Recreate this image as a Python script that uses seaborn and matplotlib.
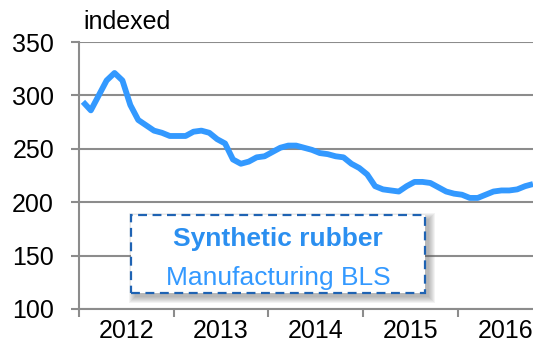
import numpy as np
import pandas as pd
import seaborn as sns
import matplotlib
matplotlib.use("Agg")
import matplotlib.pyplot as plt
from matplotlib.patches import Rectangle

# Monthly index values, Jan 2012 onward
months = pd.date_range("2012-01-01", periods=58, freq="MS")
index_values = [
    294, 286, 300, 314, 321, 314, 291, 277, 272, 267, 265, 262,
    262, 262, 266, 267, 265, 259, 255, 240, 236, 238, 242, 243,
    247, 251, 253, 253, 251, 249, 246, 245, 243, 242, 236, 232,
    226, 215, 212, 211, 210, 215, 219, 219, 218, 214, 210, 208,
    207, 204, 204, 207, 210, 211, 211, 212, 215, 217,
]
year_labels = ["2012", "2013", "2014", "2015", "2016"]
y_ticks = [100, 150, 200, 250, 300, 350]

title_text = "Synthetic rubber"
subtitle_text = "Manufacturing BLS"
unit_text = "indexed"

df = pd.DataFrame({"pos": np.arange(len(months)), "value": index_values})

sns.set_style("white")
plt.rcParams["font.family"] = ["Liberation Sans", "DejaVu Sans"]

grid_col = "#8c8c8c"
line_col = "#3399ff"

W, H = 533, 344
fig = plt.figure(figsize=(W / 100, H / 100), dpi=100)
ax = fig.add_axes([79 / W, 1 - 309 / H, 1 - 79 / W, (309 - 42) / H])

sns.lineplot(data=df, x="pos", y="value", ax=ax, color=line_col,
             linewidth=4.2, solid_joinstyle="round", solid_capstyle="butt")

ax.set_ylim(100, 350)
ax.set_xlim(-0.5, 57.0)
ax.set_yticks(y_ticks)
ax.set_yticklabels([str(v) for v in y_ticks])
ax.yaxis.grid(True, color=grid_col, linewidth=1.5)
ax.set_axisbelow(True)

# year boundaries as major ticks, year names centred between them
bounds = [-0.5 + 12 * k for k in range(len(year_labels))]
centres = [5.5 + 12 * k for k in range(len(year_labels))]
ax.set_xticks(bounds)
ax.set_xticklabels([""] * len(bounds))
ax.set_xticks(centres, minor=True)
ax.set_xticklabels(year_labels, minor=True)

ax.tick_params(axis="y", which="major", length=6, width=1.5, color=grid_col,
               labelsize=18, labelcolor="black", pad=12, direction="out",
               left=True)
ax.tick_params(axis="x", which="major", length=6, width=1.5, color=grid_col,
               direction="out", bottom=True)
ax.tick_params(axis="x", which="minor", length=0, labelsize=18,
               labelcolor="black", pad=7)

ax.set_xlabel("")
ax.set_ylabel("")
for side in ["top", "right"]:
    ax.spines[side].set_visible(False)
for side in ["left", "bottom"]:
    ax.spines[side].set_color(grid_col)
    ax.spines[side].set_linewidth(1.5)

fig.text(83 / W, 1 - 29 / H, unit_text, fontsize=18, color="black",
         ha="left", va="baseline")

# framed caption with a soft drop shadow (stacked translucent layers)
bx, by, bw, bh = 131, 215, 294, 78
for grow in range(6, -1, -1):
    shadow = Rectangle(((bx + 4 - grow) / W, 1 - (by + bh + 4 + grow) / H),
                       (bw + 2 * grow) / W, (bh + 2 * grow) / H,
                       transform=fig.transFigure, facecolor="#555555",
                       edgecolor="none", alpha=0.07, zorder=4)
    fig.patches.append(shadow)
box = Rectangle((bx / W, 1 - (by + bh) / H), bw / W, bh / H,
                transform=fig.transFigure, facecolor="white",
                edgecolor="#1f63b3", linewidth=1.6, linestyle=(0, (4, 2.5)),
                zorder=5)
fig.patches.append(box)

fig.text(278 / W, 1 - 246 / H, title_text, fontsize=19, fontweight="bold",
         color="#2b8ff0", ha="center", va="baseline", zorder=6)
fig.text(278 / W, 1 - 285 / H, subtitle_text, fontsize=19,
         color="#3399ff", ha="center", va="baseline", zorder=6)

fig.savefig("out.png", dpi=100)
